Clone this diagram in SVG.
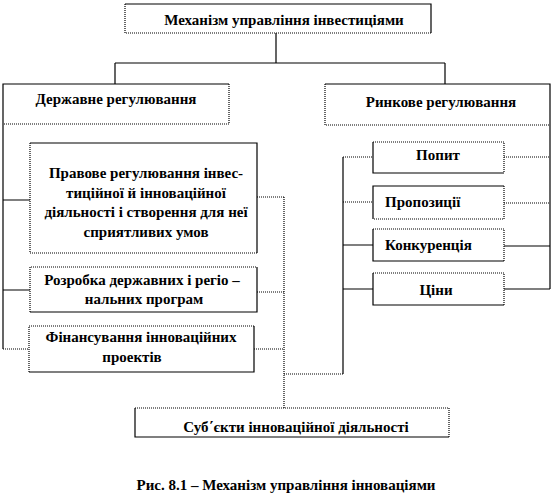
<svg xmlns="http://www.w3.org/2000/svg" width="553" height="497" viewBox="0 0 553 497">
<style>
text{font-family:'Liberation Serif','Times New Roman',serif;font-weight:bold;font-size:15px;fill:#000;text-anchor:middle}
.s{text-anchor:start}
.sl{fill:none;stroke:#000;stroke-width:1.2}
.dl{fill:none;stroke:#000;stroke-width:1.2;stroke-dasharray:1 1}
.bg{fill:#fff;stroke:none}
</style>
<rect width="553" height="497" fill="#fff"/>
<g id="connectors">
<path class="sl" d="M276 33V63M115 63H445M115 63V84M445 63V84"/>
<path class="sl" d="M3 124V349M3 200H30M3 290H30"/>
<path class="dl" d="M3 349H29"/>
<path class="sl" d="M550 125V289M504 246H550M504 289H550"/>
<path class="dl" d="M504 157H550M504 203H550"/>
<path class="sl" d="M343 157V374M343 245H373M343 289H373"/>
<path class="dl" d="M343 157H373M343 202H373"/>
<path class="dl" d="M343 374H284M284 197V408M257 197H284M257 292H284M254 349H284"/>
</g>
<g id="mech">
<rect class="bg" x="125" y="4" width="306" height="29"/>
<path class="sl" d="M125 4H431V33"/><path class="dl" d="M125 4V33H431"/>
<text x="284" y="25">Механізм  управління інвестиціями</text>
</g>
<g id="derzh">
<rect class="bg" x="3" y="84" width="226" height="40"/>
<path class="sl" d="M3 124V84H229"/><path class="dl" d="M229 84V124H3"/>
<text x="116" y="104">Державне регулювання</text>
</g>
<g id="rynk">
<rect class="bg" x="325" y="84" width="225" height="41"/>
<path class="sl" d="M325 84H550V125"/><path class="dl" d="M325 84V125H550"/>
<text x="441" y="107">Ринкове регулювання</text>
</g>
<g id="pravove">
<rect class="bg" x="30" y="143" width="227" height="110"/>
<path class="sl" d="M30 143H257V253"/><path class="dl" d="M30 143V253H257"/>
<text x="146" y="178">Правове регулювання інвес-</text>
<text x="146" y="198">тиційної  й інноваційної</text>
<text x="146" y="217">діяльності  і  створення  для неї</text>
<text x="146" y="237">сприятливих умов</text>
</g>
<g id="rozrobka">
<rect class="bg" x="30" y="267" width="227" height="45"/>
<path class="sl" d="M257 267V312H30"/><path class="dl" d="M30 312V267H257"/>
<text x="142" y="285">Розробка державних і регіо –</text>
<text x="144" y="304">нальних  програм</text>
</g>
<g id="finans">
<rect class="bg" x="29" y="326" width="225" height="46"/>
<path class="sl" d="M254 326V372H29"/><path class="dl" d="M29 372V326H254"/>
<text x="141" y="342">Фінансування інноваційних</text>
<text x="132" y="362">проектів</text>
</g>
<g id="popyt">
<rect class="bg" x="373" y="142" width="131" height="31"/>
<path class="sl" d="M373 142V173H504"/><path class="dl" d="M373 142H504V173"/>
<text x="438" y="160">Попит</text>
</g>
<g id="propozytsii">
<rect class="bg" x="373" y="186" width="131" height="33"/>
<path class="sl" d="M373 219V186H504"/><path class="dl" d="M504 186V219H373"/>
<text class="s" x="385" y="207">Пропозиції</text>
</g>
<g id="konkurentsiia">
<rect class="bg" x="373" y="229" width="131" height="32"/>
<path class="sl" d="M373 229V261H504"/><path class="dl" d="M373 229H504V261"/>
<text class="s" x="385" y="250">Конкуренція</text>
</g>
<g id="tsiny">
<rect class="bg" x="373" y="273" width="131" height="32"/>
<path class="sl" d="M373 273V305H504"/><path class="dl" d="M373 273H504V305"/>
<text x="436" y="295">Ціни</text>
</g>
<g id="subiekty">
<rect class="bg" x="135" y="408" width="314" height="29"/>
<path class="sl" d="M135 408V437H449"/><path class="dl" d="M135 408H449V437"/>
<text x="296" y="432">Суб΄єкти  інноваційної діяльності</text>
</g>
<text x="286" y="490">Рис. 8.1 – Механізм  управління інноваціями</text>
</svg>
